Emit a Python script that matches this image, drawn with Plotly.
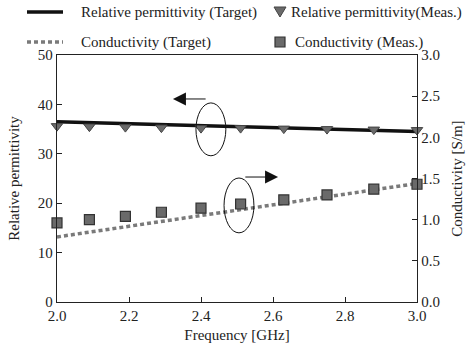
import plotly.graph_objects as go

# ---- data ----
freq_target = [2.0, 2.2, 2.4, 2.6, 2.8, 3.0]
perm_target = [36.5, 36.1, 35.7, 35.3, 34.9, 34.5]
cond_target = [0.79, 0.92, 1.05, 1.18, 1.31, 1.44]

freq_meas = [2.0, 2.09, 2.19, 2.29, 2.40, 2.51, 2.63, 2.75, 2.88, 3.0]
perm_meas = [35.6, 35.5, 35.4, 35.3, 35.2, 35.2, 35.1, 35.0, 34.9, 34.8]
cond_meas = [0.96, 1.00, 1.04, 1.09, 1.14, 1.19, 1.24, 1.30, 1.37, 1.43]

legend_labels = ["Relative permittivity (Target)", "Relative permittivity(Meas.)",
                 "Conductivity (Target)", "Conductivity (Meas.)"]

FONT = "Times New Roman"
W, H = 469, 343
L, R, T, B = 57, 52, 55, 41
PW, PH = W - L - R, H - T - B


def px(x):
    return (x - L) / PW


def py(y):
    return (H - B - y) / PH


fig = go.Figure()
fig.add_trace(go.Scatter(x=freq_target, y=perm_target, mode="lines",
                         line=dict(color="#111111", width=3.5), showlegend=False,
                         cliponaxis=False))
fig.add_trace(go.Scatter(x=freq_meas, y=perm_meas, mode="markers",
                         marker=dict(symbol="triangle-down", size=10, color="#6a6a6a",
                                     line=dict(color="#444444", width=1)),
                         showlegend=False, cliponaxis=False))
fig.add_trace(go.Scatter(x=freq_target, y=cond_target, mode="lines", yaxis="y2",
                         line=dict(color="#7a7a7a", width=3.5, dash="4px,3px"),
                         showlegend=False, cliponaxis=False))
fig.add_trace(go.Scatter(x=freq_meas, y=cond_meas, mode="markers", yaxis="y2",
                         marker=dict(symbol="square", size=10, color="#6a6a6a",
                                     line=dict(color="#333333", width=1.2)),
                         showlegend=False, cliponaxis=False))

shapes = []
annotations = []

# ellipses (rotation indicators)
shapes.append(dict(type="circle", xref="x", yref="y", x0=2.386, x1=2.469, y0=29.6, y1=40.3,
                   line=dict(color="#111111", width=1)))
shapes.append(dict(type="circle", xref="x", yref="y", x0=2.464, x1=2.547, y0=14.0, y1=25.1,
                   line=dict(color="#111111", width=1)))
# arrows
annotations.append(dict(x=2.322, y=41.1, ax=2.417, ay=41.1, xref="x", yref="y",
                        axref="x", ayref="y", showarrow=True, arrowhead=2, arrowsize=2.6,
                        arrowwidth=1, arrowcolor="#111111", text=""))
annotations.append(dict(x=2.614, y=25.3, ax=2.519, ay=25.3, xref="x", yref="y",
                        axref="x", ayref="y", showarrow=True, arrowhead=2, arrowsize=2.6,
                        arrowwidth=1, arrowcolor="#111111", text=""))

# manual legend
row1, row2 = 12, 42
shapes.append(dict(type="line", xref="paper", yref="paper", x0=px(27), x1=px(63),
                   y0=py(row1), y1=py(row1), line=dict(color="#111111", width=3.5)))
shapes.append(dict(type="line", xref="paper", yref="paper", x0=px(27), x1=px(63),
                   y0=py(row2), y1=py(row2), line=dict(color="#7a7a7a", width=3.5, dash="4px,3px")))
tri = f"M {px(274)},{py(row1-5)} L {px(286)},{py(row1-5)} L {px(280)},{py(row1+5)} Z"
shapes.append(dict(type="path", xref="paper", yref="paper", path=tri,
                   fillcolor="#6a6a6a", line=dict(color="#444444", width=1)))
shapes.append(dict(type="rect", xref="paper", yref="paper", x0=px(275), x1=px(285),
                   y0=py(row2 + 5), y1=py(row2 - 5), fillcolor="#6a6a6a",
                   line=dict(color="#333333", width=1.2)))
for lab, xx, yy in [(legend_labels[0], 79, row1), (legend_labels[1], 289, row1),
                    (legend_labels[2], 79, row2), (legend_labels[3], 293, row2)]:
    annotations.append(dict(x=px(xx), y=py(yy), xref="paper", yref="paper", text=lab,
                            showarrow=False, xanchor="left", yanchor="middle",
                            font=dict(family=FONT, size=15, color="#222222")))

axis_common = dict(showline=True, linecolor="#222222", linewidth=1.3, ticks="inside",
                   ticklen=5, tickcolor="#222222", showgrid=False, zeroline=False,
                   automargin=False,
                   tickfont=dict(family=FONT, size=15, color="#222222"))

fig.update_layout(
    width=W, height=H,
    margin=dict(l=L, r=R, t=T, b=B, autoexpand=False),
    paper_bgcolor="white", plot_bgcolor="white",
    font=dict(family=FONT, size=15, color="#222222"),
    showlegend=False,
    xaxis=dict(range=[2.0, 3.0], dtick=0.2, tick0=2.0, tickformat=".1f", mirror=True,
               title=dict(text="Frequency [GHz]", standoff=6,
                          font=dict(family=FONT, size=15)), **axis_common),
    yaxis=dict(range=[0, 50], dtick=10,
               title=dict(text="Relative permittivity", standoff=14,
                          font=dict(family=FONT, size=15)), **axis_common),
    yaxis2=dict(range=[0, 3], dtick=0.5, tickformat=".1f", overlaying="y", side="right",
                title=dict(text="Conductivity [S/m]", standoff=12,
                           font=dict(family=FONT, size=15)), **axis_common),
    shapes=shapes, annotations=annotations,
)

fig.write_html("out.html")
